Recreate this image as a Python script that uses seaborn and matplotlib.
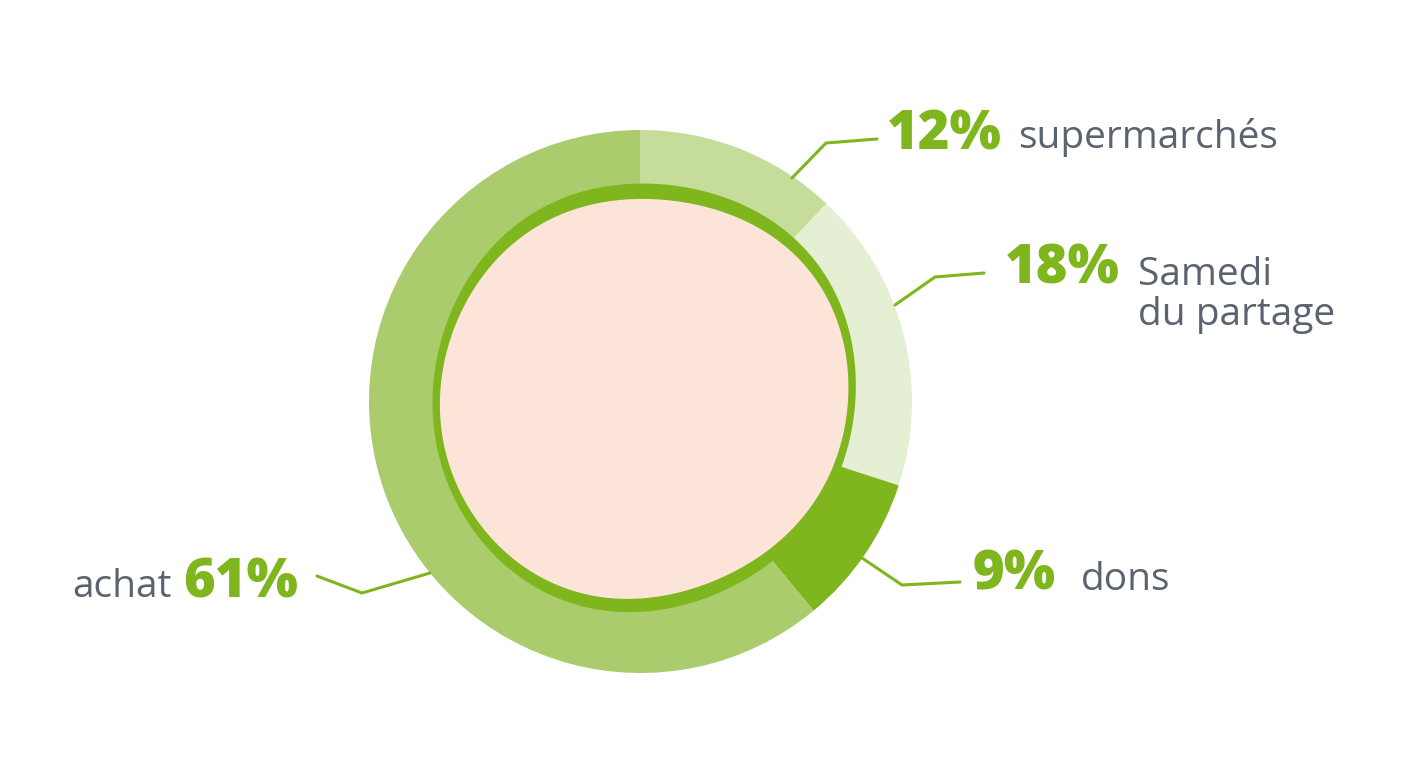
import numpy as np
import matplotlib
matplotlib.use("Agg")
import matplotlib.pyplot as plt
import seaborn as sns

# ---------------- data ----------------
categories = ["supermarchés", "Samedi\ndu partage", "dons", "achat"]
shares = [12, 18, 9, 61]
pct_labels = ["12%", "18%", "9%", "61%"]

# ---------------- styling ----------------
ring_colors = ["#c5dc9b", "#e5efd4", "#7fb51d", "#abcc6c"]
accent = "#7fb51d"
pink = "#fce4d9"
gray = "#5b6370"

# decorative blob: angle (deg, clockwise from top) -> outer radius (px)
blob_angles = [0, 27, 43.5, 57, 71, 92, 108, 134, 161, 180, 204, 227, 242, 270, 298, 320, 341]
blob_outer = [219.5, 219, 227, 223, 219, 216, 210, 208.5, 206, 211.3, 213, 211, 211, 207, 211, 214.5, 217]
band_angles = [0, 45, 90, 135, 180, 225, 270, 315]
band_width = [15, 12, 7, 11, 13, 10, 7, 12]

W, H = 1414, 772
CX, CY, R = 640.5, 772 - 401.5, 271.5

# label layout (pixel positions, y measured from top; baseline of last line)
leader_paths = [
    [(792, 178), (826, 143), (877, 139)],
    [(895, 305), (935, 277), (984, 273)],
    [(862, 558), (902, 585), (960, 582)],
    [(430, 573), (362, 593), (317, 576)],
]
pct_pos = [(887, 149), (1005, 284), (973, 590), (298, 597)]
pct_ha = ["left", "left", "left", "right"]
cat_pos = [(1018, 148), (1138, 325), (1081, 590), (172, 597)]
cat_ha = ["left", "left", "left", "right"]

sns.set_theme(style="white")
plt.rcParams["font.family"] = ["Open Sans", "DejaVu Sans"]

fig = plt.figure(figsize=(W / 100, H / 100), dpi=100)
ax = fig.add_axes([0, 0, 1, 1])

palette = sns.color_palette(ring_colors)
ax.pie(shares, colors=palette, startangle=90, counterclock=False,
       radius=R, center=(CX, CY), wedgeprops=dict(linewidth=0, antialiased=True))


def fourier_curve(angles_deg, values, order, theta):
    a = np.radians(np.asarray(angles_deg))
    cols = [np.ones_like(a)]
    for k in range(1, order + 1):
        cols += [np.cos(k * a), np.sin(k * a)]
    coef, *_ = np.linalg.lstsq(np.column_stack(cols), np.asarray(values), rcond=None)
    out = np.full_like(theta, coef[0])
    for k in range(1, order + 1):
        out += coef[2 * k - 1] * np.cos(k * theta) + coef[2 * k] * np.sin(k * theta)
    return out


theta = np.linspace(0, 2 * np.pi, 721)
r_out = fourier_curve(blob_angles, blob_outer, 5, theta)
r_band = fourier_curve(band_angles, band_width, 3, theta)
r_in = r_out - r_band
ax.fill(CX + r_out * np.sin(theta), CY + r_out * np.cos(theta), color=accent, lw=0, zorder=3)
ax.fill(CX + r_in * np.sin(theta), CY + r_in * np.cos(theta), color=pink, lw=0, zorder=4)

for path in leader_paths:
    xs = [p[0] for p in path]
    ys = [H - p[1] for p in path]
    ax.plot(xs, ys, color=accent, lw=2.2, solid_capstyle="round", solid_joinstyle="round", zorder=5)

for i in range(len(shares)):
    px, py = pct_pos[i]
    ax.text(px, H - py, pct_labels[i], color=accent, fontsize=39, fontweight="heavy",
            ha=pct_ha[i], va="baseline", zorder=6)
    lx, ly = cat_pos[i]
    ax.text(lx, H - ly, categories[i], color=gray, fontsize=28, ha=cat_ha[i],
            va="baseline", linespacing=1.08, zorder=6)

ax.set_xlim(0, W)
ax.set_ylim(0, H)
ax.set_aspect("equal")
ax.axis("off")
fig.savefig("out.png", dpi=100, facecolor="white")
